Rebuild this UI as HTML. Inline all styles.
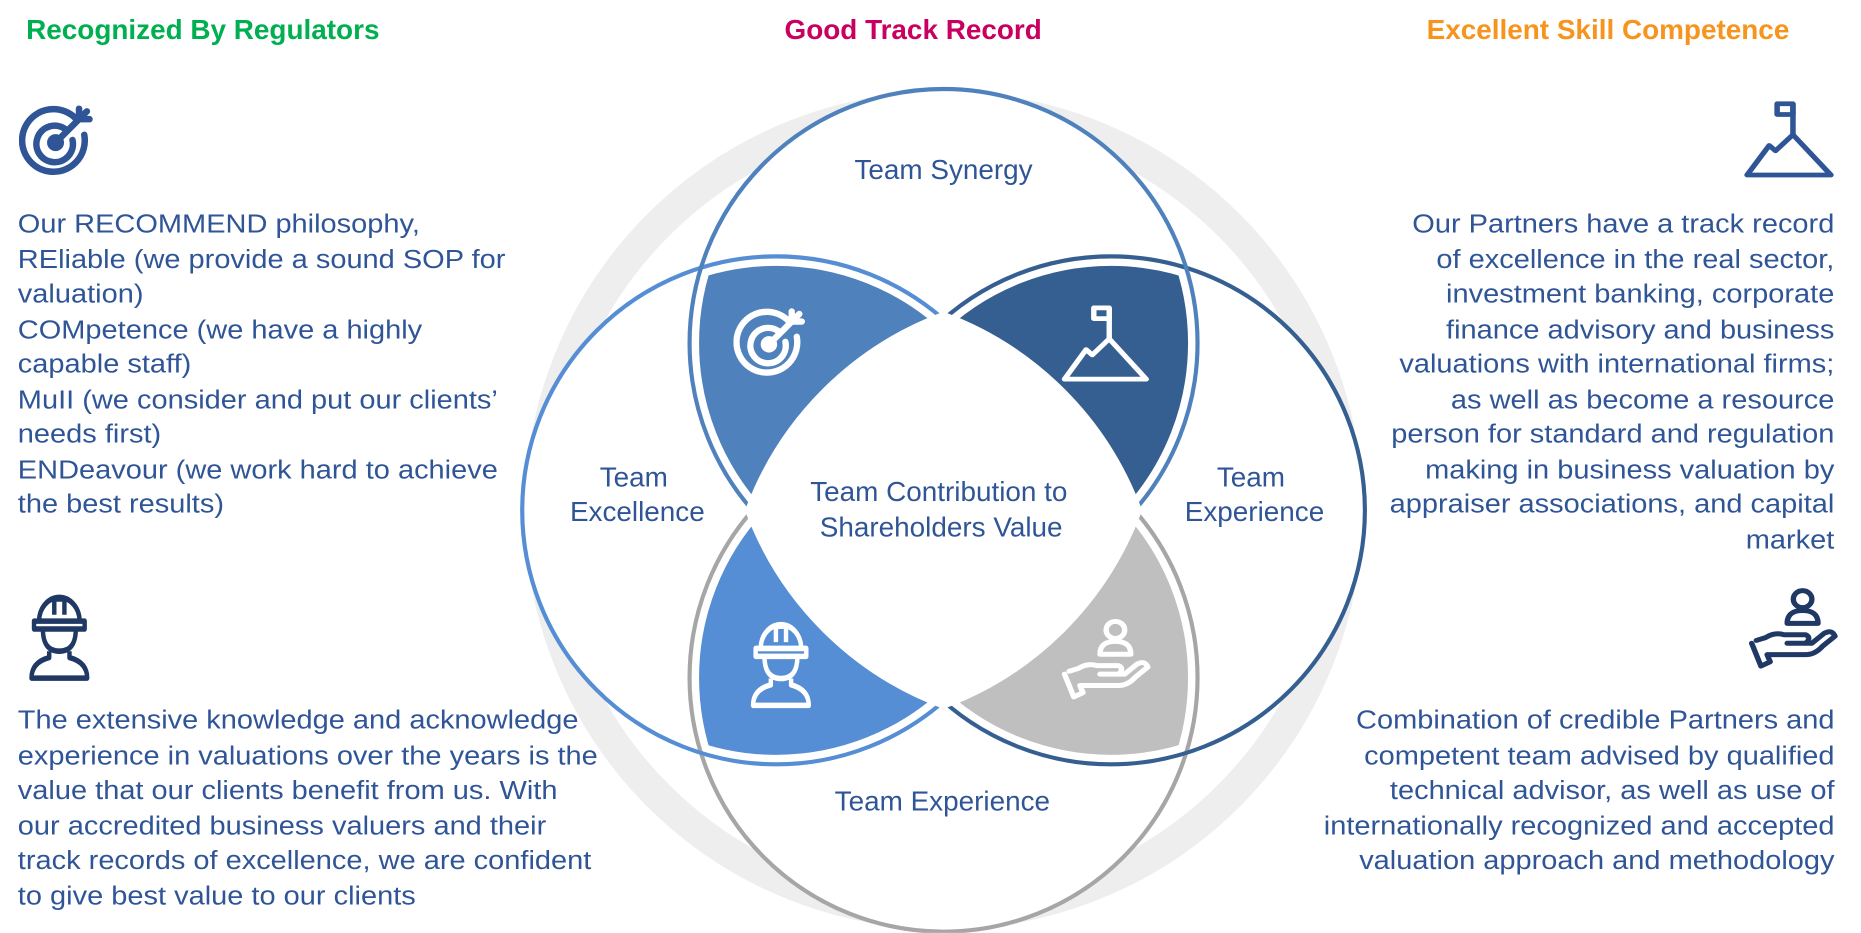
<!DOCTYPE html>
<html><head><meta charset="utf-8"><style>
html,body{margin:0;padding:0;background:#fff;}
body{width:1861px;height:933px;overflow:hidden;position:relative;}
#w{position:absolute;left:0;top:0;width:1568px;height:786px;transform:scale(1.18686);transform-origin:0 0;font-family:"Liberation Sans",Arial,sans-serif;}
.t{position:absolute;font-weight:bold;font-size:23.5px;top:12px;white-space:nowrap;}
.p{position:absolute;font-size:22px;line-height:29.5px;color:#2f5597;white-space:nowrap;}
.l{transform:scaleX(1.11);transform-origin:0 0;}
.r{text-align:right;transform:scaleX(1.11);transform-origin:100% 0;}
svg{position:absolute;left:0;top:0;}
</style></head><body><div id="w">
<svg width="1568" height="786" viewBox="0 0 1568 786">
<defs>
<clipPath id="cT"><circle cx="795" cy="289" r="214"/></clipPath>
<clipPath id="cB"><circle cx="795" cy="571" r="214"/></clipPath>
<symbol id="target" viewBox="0 0 60 60" preserveAspectRatio="none"><g fill="none" stroke="currentColor" stroke-width="5" stroke-linecap="round"><path d="M44 14 A24 24 0 1 0 50 26"/><path d="M36 22 A14 14 0 1 0 41 30"/><circle cx="28" cy="32" r="4"/><line x1="28" y1="32" x2="52" y2="8"/><path d="M46 6 L46 14 L54 14"/></g></symbol>
<symbol id="mount" viewBox="0 0 60 60" preserveAspectRatio="none"><g fill="none" stroke="currentColor" stroke-width="3.5" stroke-linejoin="round"><path d="M3 56 L17 34 L21 38 L32 26 L56 56 Z"/><line x1="32" y1="26" x2="32" y2="3"/><rect x="22" y="3" width="10" height="8"/></g></symbol>
<symbol id="worker" viewBox="0 0 60 60" preserveAspectRatio="none"><g fill="none" stroke="currentColor" stroke-width="3.5" stroke-linejoin="round"><path d="M14 22 A16 15 0 0 1 46 22"/><rect x="10" y="22" width="40" height="5"/><path d="M26 8 V18 M34 8 V18 M26 8 H34"/><path d="M17 27 Q17 41 30 41 Q43 41 43 27"/><path d="M22 41 L22 45 Q8 48 8 58 H52 Q52 48 38 45 L38 41"/></g></symbol>
<symbol id="hand" viewBox="0 0 60 60" preserveAspectRatio="none"><g fill="none" stroke="currentColor" stroke-width="3.5" stroke-linejoin="round" stroke-linecap="round"><circle cx="36" cy="9" r="6"/><path d="M26 26 Q26 17 36 17 Q46 17 46 26 Z"/><path d="M3 40 L9 56 L15 53 L13 48 H38 Q44 48 49 42 L57 35 Q55 30 50 33 L42 40 H26 M38 40 Q42 36 38 34 H24 Q18 32 12 36 L6 38"/></g></symbol>
</defs>
<circle cx="795" cy="430" r="340" fill="none" stroke="#eeeeee" stroke-width="26"/>
<g fill="#fff">
<circle cx="795" cy="289" r="214"/><circle cx="795" cy="571" r="214"/><circle cx="654" cy="430" r="214"/><circle cx="936" cy="430" r="214"/>
</g>
<g clip-path="url(#cT)">
<circle cx="654" cy="430" r="214" fill="#4f81bd" stroke="#fff" stroke-width="16"/>
<circle cx="936" cy="430" r="214" fill="#365f91" stroke="#fff" stroke-width="16"/>
<circle cx="795" cy="289" r="214" fill="none" stroke="#fff" stroke-width="16"/>
</g>
<g clip-path="url(#cB)">
<circle cx="654" cy="430" r="214" fill="#558ed5" stroke="#fff" stroke-width="16"/>
<circle cx="936" cy="430" r="214" fill="#bfbfbf" stroke="#fff" stroke-width="16"/>
<circle cx="795" cy="571" r="214" fill="none" stroke="#fff" stroke-width="16"/>
</g>
<g fill="none" stroke-width="3.5">
<circle cx="795" cy="571" r="214" stroke="#a6a6a6"/>
<circle cx="654" cy="430" r="214" stroke="#558ed5"/>
<circle cx="936" cy="430" r="214" stroke="#365f91"/>
<circle cx="795" cy="289" r="214" stroke="#4f81bd"/>
</g>
<path d="M795 268 A276 276 0 0 0 633 430 A276 276 0 0 0 795 592 A276 276 0 0 0 957 430 A276 276 0 0 0 795 268 Z" fill="#fff" stroke="#fff" stroke-width="10" stroke-linejoin="miter"/>
<use href="#target" x="618" y="256" width="64" height="64" color="#fff"/>
<use href="#mount" x="893" y="256" width="78" height="68" color="#fff"/>
<use href="#worker" x="626" y="517" width="64" height="80" color="#fff"/>
<use href="#hand" x="893" y="520" width="78" height="72" color="#fff"/>
<use href="#target" x="16" y="85" width="66" height="66" color="#2f5597"/>
<use href="#mount" x="1468" y="84" width="80" height="68" color="#2f5597"/>
<use href="#worker" x="18" y="494" width="64" height="80" color="#1f3864"/>
<use href="#hand" x="1472" y="494" width="78" height="72" color="#1f3864"/>
<g font-family="Liberation Sans, Arial, sans-serif" font-size="23.5" fill="#2f5597" text-anchor="middle">
<text x="795" y="151">Team Synergy</text>
<text x="534" y="410">Team</text><text x="537" y="439">Excellence</text>
<text x="1054" y="410">Team</text><text x="1057" y="439">Experience</text>
<text x="791" y="422">Team Contribution to</text><text x="793" y="452">Shareholders Value</text>
<text x="794" y="683">Team Experience</text>
</g>
</svg>
<div class="t" style="left:22px;color:#00b050">Recognized By Regulators</div>
<div class="t" style="left:661px;color:#c9005f">Good Track Record</div>
<div class="t" style="left:1202px;color:#f7941d">Excellent Skill Competence</div>
<div class="p l" style="left:15px;top:174px">Our RECOMMEND philosophy,<br>REliable (we provide a sound SOP for<br>valuation)<br>COMpetence (we have a highly<br>capable staff)<br>MuII (we consider and put our clients’<br>needs first)<br>ENDeavour (we work hard to achieve<br>the best results)</div>
<div class="p l" style="left:15px;top:592px">The extensive knowledge and acknowledge<br>experience in valuations over the years is the<br>value that our clients benefit from us. With<br>our accredited business valuers and their<br>track records of excellence, we are confident<br>to give best value to our clients</div>
<div class="p r" style="right:22px;top:174px">Our Partners have a track record<br>of excellence in the real sector,<br>investment banking, corporate<br>finance advisory and business<br>valuations with international firms;<br>as well as become a resource<br>person for standard and regulation<br>making in business valuation by<br>appraiser associations, and capital<br>market</div>
<div class="p r" style="right:22px;top:592px">Combination of credible Partners and<br>competent team advised by qualified<br>technical advisor, as well as use of<br>internationally recognized and accepted<br>valuation approach and methodology</div>
</div></body></html>
